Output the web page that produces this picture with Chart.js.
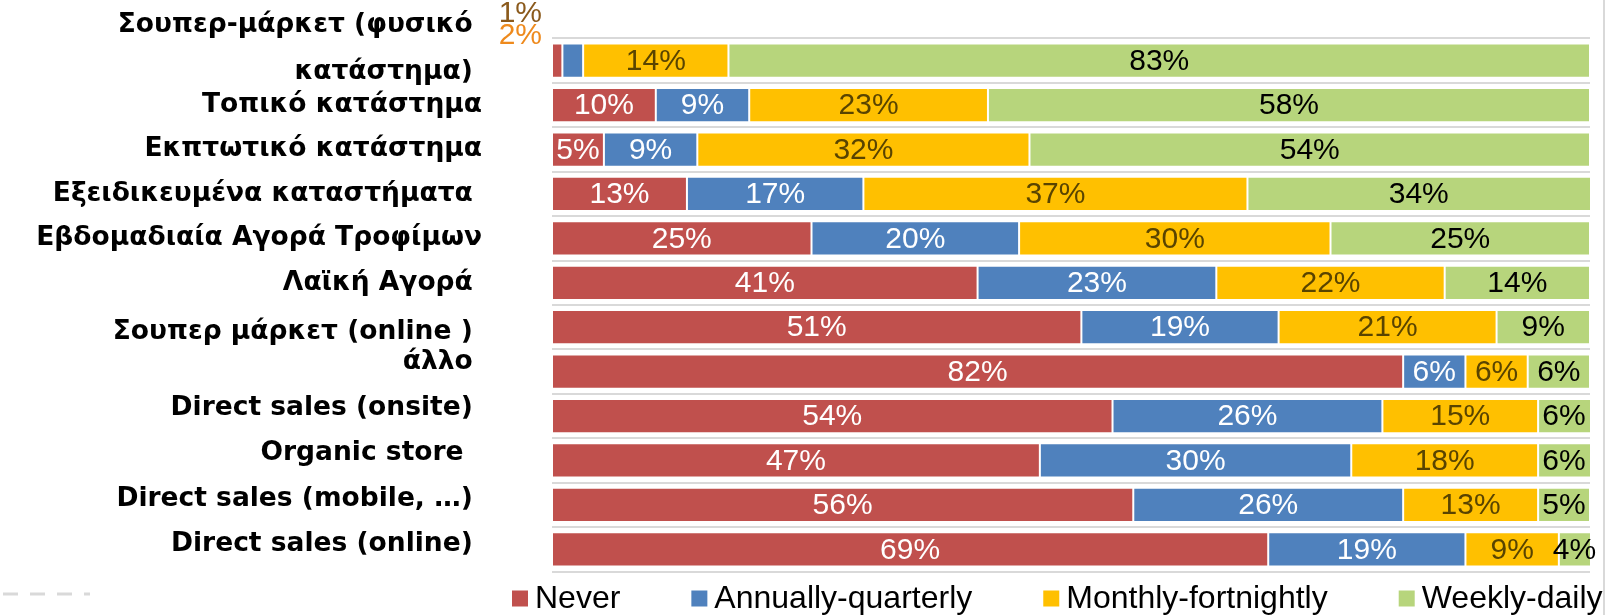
<!DOCTYPE html>
<html>
<head>
<meta charset="utf-8">
<script src="https://cdn.jsdelivr.net/npm/chart.js@4/dist/chart.umd.min.js"></script>
<style>
  html, body { margin: 0; padding: 0; background: #fff; }
  #wrap { width: 1610px; height: 615px; position: relative; }
</style>
</head>
<body>
<div id="wrap"><canvas id="myChart"></canvas></div>
<script>
// shop types; the empty strings are spacer lines that nudge a label up or down
const categories = [
    ['Σουπερ-μάρκετ (φυσικό ', '', 'κατάστημα) ', ''],
    'Τοπικό κατάστημα',
    'Εκπτωτικό κατάστημα',
    'Εξειδικευμένα καταστήματα ',
    'Εβδομαδιαία Αγορά Τροφίμων',
    'Λαϊκή Αγορά ',
    ['', 'Σουπερ μάρκετ (online ) '],
    ['άλλο ', ''],
    ['Direct sales (onsite) ', ''],
    ['Organic store  ', ''],
    ['Direct sales (mobile, …) ', ''],
    ['Direct sales (online) ', '']
];

const never    = [1, 10, 5, 13, 25, 41, 51, 82, 54, 47, 56, 69];
const annually = [2, 9, 9, 17, 20, 23, 19, 6, 26, 30, 26, 19];
const monthly  = [14, 23, 32, 37, 30, 22, 21, 6, 15, 18, 13, 9];
const weekly   = [83, 58, 54, 34, 25, 14, 9, 6, 6, 6, 5, 4];

const seriesNames = ['Never', 'Annually-quarterly', 'Monthly-fortnightly', 'Weekly-daily'];
const seriesData = [never, annually, monthly, weekly];
const barColors = ['#c0504d', '#4f81bd', '#ffc000', '#b7d57c'];
const valueColors = ['#ffffff', '#ffffff', '#594400', '#000000'];
const smallValueColors = ['#8b5a1c', '#ee8a1d'];
// line spacing of each category label (only matters for the multi-line ones)
const labelLineHeights = [0.89, 1, 1, 1, 1, 1, 0.39, 0.72, 0.61, 0.53, 0.45, 0.38];

const FONT = "'Liberation Sans', Arial, sans-serif";
Chart.defaults.font.family = FONT;

// percentages written on the segments; tiny ones go above the bar, left of it
const valueLabels = {
    id: 'valueLabels',
    afterDatasetsDraw(chart) {
        const {ctx, chartArea} = chart;
        ctx.save();
        ctx.textAlign = 'center';
        ctx.textBaseline = 'middle';
        chart.data.datasets.forEach((ds, i) => {
            const meta = chart.getDatasetMeta(i);
            meta.data.forEach((bar, j) => {
                const v = ds.data[j];
                const p = bar.getProps(['x', 'y', 'base', 'height'], true);
                if (v < 3) {
                    let after = 0;
                    for (let k = i + 1; k < chart.data.datasets.length; k++) {
                        if (chart.data.datasets[k].data[j] < 3) after++;
                    }
                    ctx.font = '30px ' + FONT;
                    ctx.textAlign = 'right';
                    ctx.fillStyle = smallValueColors[i] || '#000';
                    ctx.fillText(v + '%', chartArea.left - 10, p.y - p.height / 2 - 8 - after * 22);
                    ctx.textAlign = 'center';
                    return;
                }
                const left = Math.min(p.base, p.x);
                const right = Math.min(Math.max(p.base, p.x), chartArea.right);
                ctx.font = '30px ' + FONT;
                ctx.fillStyle = valueColors[i];
                ctx.fillText(v + '%', (left + right) / 2, p.y + 1);
            });
        });
        ctx.restore();
    }
};

// legend row under the bars plus the frame bits around the chart
const extras = {
    id: 'extras',
    afterDraw(chart) {
        const {ctx, chartArea} = chart;
        ctx.save();
        ctx.font = '32px ' + FONT;
        ctx.textBaseline = 'middle';
        const y = chartArea.bottom + 27;
        let x = chartArea.left - 40;
        chart.data.datasets.forEach(ds => {
            ctx.fillStyle = ds.backgroundColor;
            ctx.fillRect(x, y - 8, 16, 16);
            ctx.fillStyle = '#000';
            ctx.fillText(ds.label, x + 23, y + 1);
            x += 23 + ctx.measureText(ds.label).width + 71;
        });

        ctx.strokeStyle = '#d9d9d9';
        ctx.lineWidth = 2;
        ctx.beginPath();
        ctx.moveTo(1604, 0);
        ctx.lineTo(1604, chart.height);
        ctx.stroke();

        ctx.lineWidth = 3;
        ctx.setLineDash([15, 12]);
        ctx.beginPath();
        ctx.moveTo(3, 594);
        ctx.lineTo(90, 594);
        ctx.stroke();
        ctx.restore();
    }
};

new Chart('myChart', {
    type: 'bar',
    data: {
        labels: categories,
        datasets: seriesData.map((d, i) => ({
            label: seriesNames[i],
            data: d,
            backgroundColor: barColors[i],
            borderColor: '#ffffff',
            borderWidth: 1,
            borderSkipped: false,
            barPercentage: 0.77,
            categoryPercentage: 1,
            clip: 0
        }))
    },
    options: {
        indexAxis: 'y',
        responsive: true,
        maintainAspectRatio: false,
        animation: false,
        layout: { padding: { top: 38.5, right: 20, bottom: 43.5, left: 0 } },
        plugins: {
            legend: { display: false },
            tooltip: { enabled: false }
        },
        scales: {
            x: { stacked: true, min: 0, max: 100, display: false },
            y: {
                stacked: true,
                offset: true,
                border: { display: false },
                grid: { offset: true, color: '#d9d9d9', lineWidth: 2, drawTicks: false },
                ticks: {
                    autoSkip: false,
                    padding: 70,
                    color: '#000',
                    font: ctx => ({
                        family: "'DejaVu Sans', " + FONT,
                        size: 26.5,
                        weight: 'bold',
                        lineHeight: labelLineHeights[ctx.index]
                    })
                },
                afterFit: s => {
                    s.width = 552;
                    s.paddingTop = 0;
                    s.paddingBottom = 0;
                }
            }
        }
    },
    plugins: [valueLabels, extras]
});
</script>
</body>
</html>
